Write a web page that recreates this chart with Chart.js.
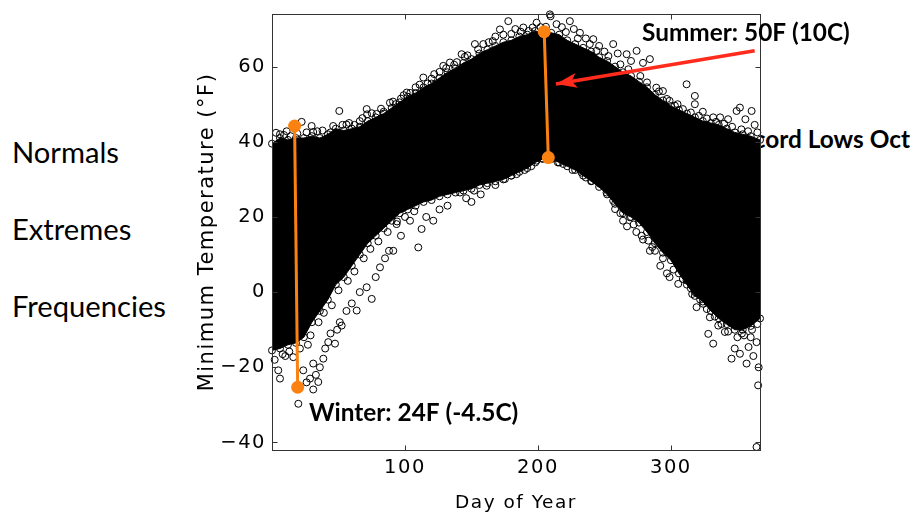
<!DOCTYPE html>
<html>
<head>
<meta charset="utf-8">
<script src="https://cdn.jsdelivr.net/npm/chart.js@4.4.1/dist/chart.umd.min.js"></script>
<style>
  html, body { margin: 0; padding: 0; background: #fff; }
  #wrap { position: relative; width: 914px; height: 516px; overflow: hidden; }
  .side { position: absolute; font-family: Lato, "Open Sans", sans-serif; color: #000; white-space: nowrap; line-height: 1; }
  canvas { position: absolute; left: 0; top: 0; }
</style>
</head>
<body>
<div id="wrap">
  <div class="side" id="lab-normals">Normals</div>
  <div class="side" id="lab-extremes">Extremes</div>
  <div class="side" id="lab-freq">Frequencies</div>
  <div class="side" id="lab-record" style="font-weight:700">Record Lows Oct</div>
  <canvas id="chart" width="914" height="516"></canvas>
</div>
<script>
// axis ticks
const xTicks = [100, 200, 300];
const yTicks = [-40, -20, 0, 20, 40, 60];

// dense core of the cloud: upper and lower edge by day of year
const coreDays = [0, 6, 12, 18, 24, 30, 36, 42, 48, 54, 60, 66, 72, 78, 84, 90, 96, 102, 108, 114,
  120, 126, 132, 138, 144, 150, 156, 162, 168, 174, 180, 186, 192, 198, 204, 210, 216, 222, 228, 234,
  240, 246, 252, 258, 264, 270, 276, 282, 288, 294, 300, 306, 312, 318, 324, 330, 336, 342, 348, 354, 360, 367];
const coreHigh = [39.5, 41, 40.5, 41, 41, 41.5, 41, 42, 43.5, 43, 43.5, 44, 45.5, 46.5, 47.5, 49, 50.5, 52, 53, 54.5,
  55.5, 57, 58.5, 59.5, 61, 62, 63.5, 64.5, 65.5, 66.5, 67, 68, 68.5, 69.5, 69, 69, 68.5, 67, 66, 65,
  64, 62.5, 61.5, 60, 58.5, 57.5, 56, 54.5, 52.5, 51, 49.5, 48.5, 47.5, 46.5, 45.5, 45, 44.5, 43.5, 42.5, 42, 41.5, 40.5];
const coreLow = [-15.5, -15, -14, -13.5, -12, -8, -5, -2, 2, 4, 7, 10, 13, 15, 17, 19, 21, 22, 23, 24,
  24.5, 25.5, 26, 26.5, 27, 27.5, 28.5, 29, 29.5, 30, 31, 32, 33, 34.5, 35.5, 35.5, 34.5, 33.5, 32.5, 31,
  29.5, 28, 26, 23.5, 21, 20, 18.5, 16, 13, 10.5, 8.5, 5, 2, -1, -2.5, -5, -7, -8.5, -10, -10, -9, -7];

// scattered days outside the core, [day, min temp F]
const topFringe = [[3, 42.4], [6, 42], [11, 42.8], [14, 41.5], [22.3, 45.3], [26, 42.5], [29.8, 44.2], [34, 42.8],
  [38, 43], [44, 42.5], [50.6, 48.2], [53, 44.5], [58, 45], [62, 44.5], [66, 45.5], [71.2, 48.7], [71.5, 47.3],
  [78.7, 47.4], [84, 48], [88.7, 50.4], [93, 50], [97, 51.5], [101.3, 53.1], [104, 53], [108, 54.5], [113.8, 57.1],
  [117, 55.5], [122, 58], [128.8, 60.2], [133.8, 61.1], [137, 60.5], [142.6, 63.3], [147, 63], [152.6, 66],
  [158.9, 66], [163, 66.5], [168, 68], [171.4, 69.9], [174, 68.5], [177.7, 72.1], [183, 70], [189, 70.4],
  [193, 69.5], [199, 71.7], [202, 70.5], [209, 73.9], [209.5, 73.4], [214, 71.3], [218, 70.5], [224, 72.1],
  [227, 70], [231.6, 69], [236, 67.5], [241.6, 67.3], [246, 65.5], [250, 64], [256.6, 66], [260, 63.5],
  [266.7, 63.3], [270, 61.5], [274.2, 64.2], [279, 61], [284.2, 62], [289, 54.4], [294, 53.5], [299, 50.9],
  [305, 50], [311.8, 55.3], [318, 52.2], [318, 50], [324, 48], [331.8, 46.5], [337, 46.5], [343, 46],
  [349.4, 48.2], [351.9, 49.1], [356, 46], [360.7, 48.2], [363, 44.5], [365, 42.5],
  [9, 41.8], [19, 42.2], [31, 42.6], [46, 44.2], [56, 44.6], [68, 46.3], [75, 47.6], [82, 48.8], [91, 50.7],
  [99, 52.4], [111, 55.2], [120, 56.8], [126, 58.6], [131, 59.6], [139, 61.2], [145, 62.6], [155, 64.6],
  [166, 66.8], [180, 68.7], [187, 69.3], [196, 70.4], [206, 70.6], [221, 69.2], [230, 67.5], [239, 66],
  [244, 64.2], [253, 62.8], [262, 60.6], [268, 59.3], [277, 57.5], [282, 55.8], [291, 53.4], [297, 51.4],
  [303, 49.6], [309, 48.7], [315, 47.8], [321, 46.9], [327, 46.2], [334, 45.3], [340, 44.8], [346, 44],
  [353, 43.3], [358, 42.8]];
const holeFringe = [[141.4, 26.5], [146, 25], [150, 24], [152, 27], [157, 26], [161.4, 28.3], [168, 28.5],
  [175.2, 30.1], [180, 31], [184, 31.4], [190, 32.5], [195, 33.5], [199, 35], [203, 35.5], [211, 35.5],
  [215, 34.5], [219, 34.1], [226, 32.5], [232.8, 31.8], [236, 30.5], [240.4, 29.6], [246.6, 28.8],
  [251.6, 26.5], [256.6, 24.3], [258, 22.1], [262, 21]];
const lowLeftFringe = [[2, -18], [4.7, -20.8], [6, -23], [10, -17], [16, -17.3], [19.8, -29.7], [23.5, -20.8],
  [26, -24], [28.6, -23], [31, -25.9], [31, -19], [33, -22], [34.8, -23.9], [36, -20], [38.6, -17.7], [40, -15],
  [42.3, -13.3], [44, -11], [47.4, -13.7], [49, -10], [51, -8], [52.4, -8.9], [56, -5], [60, -3], [63.7, -4.9],
  [66, 0], [71.2, 1.3], [75, -1.8], [78, 4], [81.2, 6.6], [85, 9], [88, 11], [91.2, 11], [93.7, 18.1], [97, 15],
  [103.8, 19], [110, 11.9], [112.5, 16.8], [116, 20], [121.3, 19], [126, 22], [132, 23],
  [8, -16.5], [13, -15.8], [21, -15], [27, -14], [29, -11.5], [35, -8], [39, -5.5], [45, -3.5], [50, 0.5],
  [57, 3], [62, 5.5], [69, 9], [74, 11.5], [80, 13.5], [87, 16], [94, 18.8], [100, 20], [107, 21.5]];
const lowRightFringe = [[264, 19], [269.2, 19.9], [274, 16], [278, 15], [283, 13.7], [284.2, 11], [288, 11],
  [292, 7], [297, 5], [299, 4], [305.5, 8], [305.5, 2.2], [311.8, 3.1], [315, 1], [318, 0], [319.3, -4],
  [324.3, -3.1], [328.1, -11.1], [329.3, -6.7], [331.8, -13.7], [335.6, -8.9], [339.3, -4.9], [340.6, -10.6],
  [344.4, -8], [345.6, -17.7], [348, -15], [351.9, -16.4], [353.4, -11], [356.9, -19], [358.4, -14.6],
  [360, -12], [362, -17], [364.4, -13.3], [365.6, -24.8], [366, -20], [364.4, -41.2],
  [267, 17.5], [272, 18], [279, 14], [286, 12], [294, 9], [302, 6], [309, 3.5], [316, -0.5], [322, -2],
  [327, -4.5], [333, -6.5], [338, -8.5], [343, -10.5], [350, -12], [355, -11.5], [361, -10], [365, -8.5]];

// annotation marks
const winterDays = [17, 19.3];
const winterTemps = [44.2, -25.3];
const summerDays = [204.7, 207.8];
const summerTemps = [69.3, 35.8];
const arrowDays = [363, 213.5];
const arrowTemps = [64.2, 55.4];

const ORANGE = '#fb8210';
const RED = '#ff2b1c';
const LABEL_FONT = 'Lato, "Open Sans", sans-serif';

function xy(days, temps) {
    return days.map((d, i) => ({ x: d, y: temps[i] }));
}
function pairs(list) {
    return list.map(p => ({ x: p[0], y: p[1] }));
}

// size a font so the text gets a given width
const measureCtx = document.createElement('canvas').getContext('2d');
function fitSize(text, weight, width) {
    measureCtx.font = `${weight} 100px ${LABEL_FONT}`;
    return 100 * width / measureCtx.measureText(text).width;
}

const sideSize = fitSize('Frequencies', 400, 154);
const noteSize = fitSize('Summer: 50F (10C)', 700, 208);

// left side labels, placed by cap centre
function placeSide(id, capCenter) {
    const el = document.getElementById(id);
    el.style.fontSize = sideSize + 'px';
    el.style.left = '12px';
    el.style.top = (capCenter + 0.358 * sideSize - 0.887 * sideSize) + 'px';
}
placeSide('lab-normals', 152.5);
placeSide('lab-extremes', 229);
placeSide('lab-freq', 306);
const rec = document.getElementById('lab-record');
rec.style.fontSize = noteSize + 'px';
rec.style.right = '4px';
rec.style.top = (140 + 0.358 * noteSize - 0.887 * noteSize) + 'px';

const plotBox = {
    id: 'plotBox',
    beforeDraw(chart) {
        const { ctx, chartArea: a } = chart;
        ctx.save();
        ctx.fillStyle = '#fff';
        ctx.fillRect(a.left, a.top, a.right - a.left, a.bottom - a.top);
        ctx.restore();
        ctx.letterSpacing = '1.5px';
    },
    afterDatasetsDraw(chart) {
        const { ctx, scales: { x, y } } = chart;
        ctx.letterSpacing = '0px';
        // red arrow head
        const tx = x.getPixelForValue(arrowDays[1]), ty = y.getPixelForValue(arrowTemps[1]);
        const sx = x.getPixelForValue(arrowDays[0]), sy = y.getPixelForValue(arrowTemps[0]);
        const len = Math.hypot(tx - sx, ty - sy);
        const ux = (tx - sx) / len, uy = (ty - sy) / len;
        const bx = tx - ux * 21, by = ty - uy * 21;
        ctx.save();
        ctx.fillStyle = RED;
        ctx.beginPath();
        ctx.moveTo(tx, ty);
        ctx.lineTo(bx - uy * 7.5, by + ux * 7.5);
        ctx.lineTo(bx + ux * 5, by + uy * 5);
        ctx.lineTo(bx + uy * 7.5, by - ux * 7.5);
        ctx.closePath();
        ctx.fill();
        ctx.restore();
    },
    afterDraw(chart) {
        const { ctx, chartArea: a, scales: { x, y } } = chart;
        ctx.save();
        ctx.letterSpacing = '0px';
        ctx.strokeStyle = '#333';
        ctx.lineWidth = 1;
        const L = Math.round(a.left) + 0.5, R = Math.round(a.right) + 0.5;
        const T = Math.round(a.top) + 0.5, B = Math.round(a.bottom) + 0.5;
        ctx.strokeRect(L, T, R - L, B - T);
        ctx.beginPath();
        xTicks.forEach(v => {
            const px = Math.round(x.getPixelForValue(v)) + 0.5;
            ctx.moveTo(px, B); ctx.lineTo(px, B - 5);
            ctx.moveTo(px, T); ctx.lineTo(px, T + 5);
        });
        yTicks.forEach(v => {
            const py = Math.round(y.getPixelForValue(v)) + 0.5;
            ctx.moveTo(L, py); ctx.lineTo(L + 5, py);
            ctx.moveTo(R, py); ctx.lineTo(R - 5, py);
        });
        ctx.stroke();

        // y axis title, rotated, centred on the plot
        ctx.save();
        ctx.translate(208, (a.top + a.bottom) / 2);
        ctx.rotate(-Math.PI / 2);
        ctx.letterSpacing = '1.5px';
        ctx.font = '21px "DejaVu Sans"';
        ctx.textAlign = 'center';
        ctx.textBaseline = 'middle';
        ctx.fillStyle = '#000';
        ctx.fillText('Minimum Temperature (°F)', 0, 0);
        ctx.restore();

        // text notes
        ctx.fillStyle = '#000';
        ctx.font = `700 ${noteSize}px ${LABEL_FONT}`;
        ctx.textAlign = 'left';
        ctx.textBaseline = 'alphabetic';
        ctx.fillText('Summer: 50F (10C)', 642, 32.3 + 0.358 * noteSize);
        ctx.fillText('Winter: 24F (-4.5C)', 309, 412.5 + 0.358 * noteSize);
        ctx.restore();
    }
};

const circle = {
    pointRadius: 3.5,
    pointBorderWidth: 1,
    pointBorderColor: '#000',
    pointBackgroundColor: 'rgba(0,0,0,0)',
    clip: 4
};

const minusLabel = v => (v < 0 ? '\u2212' + Math.abs(v) : String(v));

const ctx = document.getElementById('chart').getContext('2d');
const chart = new Chart(ctx, {
    data: {
        datasets: [
            Object.assign({
                type: 'line', label: 'core high', data: xy(coreDays, coreHigh), order: 10,
                fill: '+1', backgroundColor: '#000', borderColor: '#000', borderWidth: 1, tension: 0
            }, circle),
            Object.assign({
                type: 'line', label: 'core low', data: xy(coreDays, coreLow), order: 9,
                fill: false, borderColor: '#000', borderWidth: 1, tension: 0
            }, circle),
            Object.assign({
                type: 'scatter', label: 'days', order: 8,
                data: pairs(topFringe.concat(holeFringe, lowLeftFringe, lowRightFringe))
            }, circle),
            {
                type: 'line', label: 'winter', data: xy(winterDays, winterTemps), order: 2,
                borderColor: ORANGE, borderWidth: 3, pointRadius: 6.5, pointBorderWidth: 0,
                pointBackgroundColor: ORANGE, fill: false
            },
            {
                type: 'line', label: 'summer', data: xy(summerDays, summerTemps), order: 2,
                borderColor: ORANGE, borderWidth: 3, pointRadius: 6.5, pointBorderWidth: 0,
                pointBackgroundColor: ORANGE, fill: false
            },
            {
                type: 'line', label: 'arrow', data: xy(arrowDays, arrowTemps), order: 1,
                borderColor: RED, borderWidth: 3.5, pointRadius: 0, fill: false, clip: 8
            }
        ]
    },
    options: {
        responsive: false,
        animation: false,
        events: [],
        layout: { padding: { left: 0, right: 154, top: 14, bottom: 0 } },
        plugins: {
            legend: { display: false },
            tooltip: { enabled: false }
        },
        scales: {
            x: {
                type: 'linear', min: 0, max: 367,
                afterFit: s => { s.height = 66; s.paddingLeft = 0; s.paddingRight = 0; },
                afterBuildTicks: s => { s.ticks = xTicks.map(v => ({ value: v })); },
                grid: { display: false, drawTicks: false },
                border: { display: false },
                ticks: { color: '#000', padding: 6, maxRotation: 0, font: { family: 'DejaVu Sans', size: 19.5 } },
                title: {
                    display: true, text: 'Day of Year', color: '#000',
                    font: { family: 'DejaVu Sans', size: 18.5 }, padding: { top: 0, bottom: 2 }
                }
            },
            y: {
                type: 'linear', min: -42, max: 74,
                afterFit: s => { s.width = 272; s.paddingTop = 0; s.paddingBottom = 0; },
                afterBuildTicks: s => { s.ticks = yTicks.map(v => ({ value: v })); },
                grid: { display: false, drawTicks: false },
                border: { display: false },
                ticks: { color: '#000', padding: 6, callback: minusLabel, font: { family: 'DejaVu Sans', size: 19.5 } },
                title: { display: false }
            }
        }
    },
    plugins: [plotBox]
});
</script>
</body>
</html>
